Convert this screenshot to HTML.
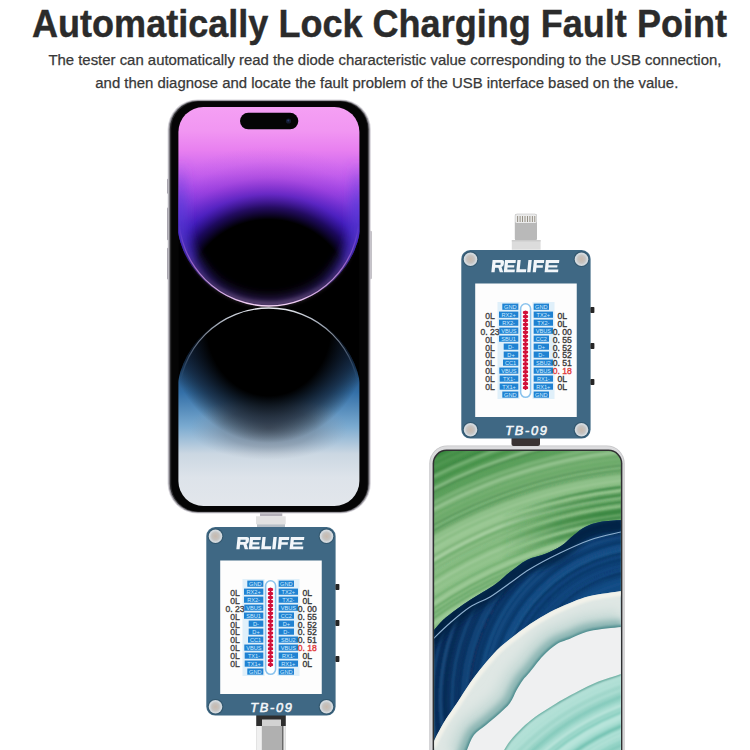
<!DOCTYPE html>
<html><head><meta charset="utf-8">
<style>
html,body{margin:0;padding:0;background:#fff;width:750px;height:750px;overflow:hidden}
svg{display:block;font-family:"Liberation Sans",sans-serif}
</style></head>
<body>
<svg width="750" height="750" viewBox="0 0 750 750">
<defs>
  <clipPath id="scr1"><rect x="178.4" y="107" width="181" height="399" rx="25"/></clipPath>
  <clipPath id="scr2"><rect x="434.2" y="451" width="186.6" height="330" rx="12.5"/></clipPath>
  <linearGradient id="u1" x1="0" y1="107" x2="0" y2="306" gradientUnits="userSpaceOnUse">
    <stop offset="0" stop-color="#f5a0f4"/>
    <stop offset="0.12" stop-color="#f196f2"/>
    <stop offset="0.216" stop-color="#e880f0"/>
    <stop offset="0.337" stop-color="#c862ee"/>
    <stop offset="0.422" stop-color="#a84cea"/>
    <stop offset="0.497" stop-color="#8040e4"/>
    <stop offset="0.588" stop-color="#5632da"/>
    <stop offset="0.673" stop-color="#3e28c4"/>
    <stop offset="0.739" stop-color="#2e1ea0"/>
    <stop offset="0.804" stop-color="#261688"/>
    <stop offset="1" stop-color="#4a2890"/>
  </linearGradient>
  <radialGradient id="u1d" cx="0" cy="0" r="1" gradientUnits="userSpaceOnUse" gradientTransform="translate(269.5 296) scale(160 150)">
    <stop offset="0" stop-color="#000" stop-opacity="1"/>
    <stop offset="0.51" stop-color="#000" stop-opacity="1"/>
    <stop offset="0.59" stop-color="#100040" stop-opacity="0.8"/>
    <stop offset="0.68" stop-color="#3008a0" stop-opacity="0.5"/>
    <stop offset="0.79" stop-color="#6010b0" stop-opacity="0.2"/>
    <stop offset="0.9" stop-color="#7020c0" stop-opacity="0.05"/>
    <stop offset="1" stop-color="#7020c0" stop-opacity="0"/>
  </radialGradient>
  <clipPath id="uclip"><path d="M176 100 L363 100 L363 216 A93.5 90 0 0 1 176 216 Z"/></clipPath>
  <linearGradient id="uglow" x1="0" y1="160" x2="0" y2="306" gradientUnits="userSpaceOnUse">
    <stop offset="0" stop-color="#7048e0" stop-opacity="0"/>
    <stop offset="0.35" stop-color="#5a3ad8" stop-opacity="0.8"/>
    <stop offset="0.65" stop-color="#4028b8" stop-opacity="0.8"/>
    <stop offset="0.85" stop-color="#4028a8" stop-opacity="0.45"/>
    <stop offset="1" stop-color="#6a40b8" stop-opacity="0.4"/>
  </linearGradient>
  <filter id="blur5" x="-20%" y="-20%" width="140%" height="140%"><feGaussianBlur stdDeviation="5"/></filter>
  <linearGradient id="u1rim" x1="0" y1="225" x2="0" y2="306" gradientUnits="userSpaceOnUse">
    <stop offset="0" stop-color="#c070f0" stop-opacity="0"/>
    <stop offset="0.5" stop-color="#d890f0" stop-opacity="0.6"/>
    <stop offset="1" stop-color="#f8d8f8" stop-opacity="1"/>
  </linearGradient>
  <linearGradient id="l1" x1="0" y1="308" x2="0" y2="505" gradientUnits="userSpaceOnUse">
    <stop offset="0" stop-color="#081426"/>
    <stop offset="0.25" stop-color="#17385e"/>
    <stop offset="0.43" stop-color="#3470a8"/>
    <stop offset="0.6" stop-color="#7aaad0"/>
    <stop offset="0.74" stop-color="#cbd7e2"/>
    <stop offset="0.86" stop-color="#dde3ea"/>
    <stop offset="1" stop-color="#e2e6eb"/>
  </linearGradient>
  <radialGradient id="l1d" cx="0" cy="0" r="1" gradientUnits="userSpaceOnUse" gradientTransform="translate(269.5 325) scale(105 118)">
    <stop offset="0" stop-color="#000" stop-opacity="1"/>
    <stop offset="0.6" stop-color="#000" stop-opacity="1"/>
    <stop offset="0.82" stop-color="#0a0f1a" stop-opacity="0.6"/>
    <stop offset="1" stop-color="#000" stop-opacity="0"/>
  </radialGradient>
  <radialGradient id="l1g" cx="0" cy="0" r="1" gradientUnits="userSpaceOnUse" gradientTransform="translate(269.5 428) scale(80 32)">
    <stop offset="0" stop-color="#5a6474" stop-opacity="0.75"/>
    <stop offset="0.6" stop-color="#6a7686" stop-opacity="0.45"/>
    <stop offset="1" stop-color="#8a96a6" stop-opacity="0"/>
  </radialGradient>
  <linearGradient id="l1rim" x1="0" y1="308" x2="0" y2="380" gradientUnits="userSpaceOnUse">
    <stop offset="0" stop-color="#e8eaf0" stop-opacity="1"/>
    <stop offset="0.5" stop-color="#a0b0c8" stop-opacity="0.6"/>
    <stop offset="1" stop-color="#6080a8" stop-opacity="0"/>
  </linearGradient>
  <filter id="blur1" x="-10%" y="-10%" width="120%" height="120%"><feGaussianBlur stdDeviation="0.9"/></filter>
  <radialGradient id="hwg" cx="675" cy="960" r="600" gradientUnits="userSpaceOnUse">
    <stop offset="0.667" stop-color="#8cc087"/>
    <stop offset="0.78" stop-color="#8fc189"/>
    <stop offset="0.85" stop-color="#76b072"/>
    <stop offset="0.9" stop-color="#4c964e"/>
    <stop offset="0.94" stop-color="#2e7c35"/>
    <stop offset="1" stop-color="#2a7530"/>
  </radialGradient>
  <linearGradient id="dgr" x1="500" y1="0" x2="600" y2="0" gradientUnits="userSpaceOnUse">
    <stop offset="0" stop-color="#2a7a31" stop-opacity="0"/>
    <stop offset="0.6" stop-color="#2a7a31" stop-opacity="0.6"/>
    <stop offset="1" stop-color="#2a7a31" stop-opacity="0.75"/>
  </linearGradient>
  <radialGradient id="hwn" cx="650" cy="700" r="240" gradientUnits="userSpaceOnUse">
    <stop offset="0.55" stop-color="#114a82"/>
    <stop offset="0.7" stop-color="#0e3f74"/>
    <stop offset="0.85" stop-color="#0a305e"/>
    <stop offset="1" stop-color="#08234c"/>
  </radialGradient>
  <linearGradient id="hwp" x1="600" y1="600" x2="540" y2="675" gradientUnits="userSpaceOnUse">
    <stop offset="0" stop-color="#e6ebe6"/>
    <stop offset="0.45" stop-color="#c9d9d6"/>
    <stop offset="0.8" stop-color="#8fb8b6"/>
    <stop offset="1" stop-color="#5f9898"/>
  </linearGradient>
  <radialGradient id="hwt" cx="708" cy="939" r="280" gradientUnits="userSpaceOnUse">
    <stop offset="0.7" stop-color="#a6dbd0"/>
    <stop offset="0.85" stop-color="#7cc9b9"/>
    <stop offset="0.95" stop-color="#9fd6ca"/>
    <stop offset="1" stop-color="#b8e2da"/>
  </radialGradient>
  <filter id="blur3" x="-20%" y="-20%" width="140%" height="140%"><feGaussianBlur stdDeviation="3"/></filter>
  <filter id="blur4" x="-20%" y="-20%" width="140%" height="140%"><feGaussianBlur stdDeviation="6"/></filter>
  <filter id="blur2" x="-20%" y="-20%" width="140%" height="140%"><feGaussianBlur stdDeviation="2"/></filter>
  <radialGradient id="screw" cx="0.5" cy="0.5" r="0.55">
    <stop offset="0" stop-color="#c8b9ad"/>
    <stop offset="0.6" stop-color="#c5c2bf"/>
    <stop offset="1" stop-color="#cfd3d6"/>
  </radialGradient>

  <g id="tester">
    <rect x="-0.7" y="0" width="129.3" height="188.6" rx="9" fill="#3f6884"/>
    <rect x="128.4" y="57" width="4" height="6" rx="0.8" fill="#262626"/>
    <rect x="128.4" y="93" width="4" height="6" rx="0.8" fill="#262626"/>
    <rect x="128.4" y="129" width="4" height="6" rx="0.8" fill="#262626"/>
    <circle cx="8.5" cy="9.2" r="7.9" fill="#2f5269" opacity="0.8"/>
    <circle cx="8.5" cy="9.2" r="6.8" fill="#d3d9de"/>
    <circle cx="8.5" cy="9.2" r="5.2" fill="url(#screw)"/>
    <circle cx="119.5" cy="9.2" r="7.9" fill="#2f5269" opacity="0.8"/>
    <circle cx="119.5" cy="9.2" r="6.8" fill="#d3d9de"/>
    <circle cx="119.5" cy="9.2" r="5.2" fill="url(#screw)"/>
    <circle cx="8.5" cy="179.8" r="7.9" fill="#2f5269" opacity="0.8"/>
    <circle cx="8.5" cy="179.8" r="6.8" fill="#d3d9de"/>
    <circle cx="8.5" cy="179.8" r="5.2" fill="url(#screw)"/>
    <circle cx="119.5" cy="179.8" r="7.9" fill="#2f5269" opacity="0.8"/>
    <circle cx="119.5" cy="179.8" r="6.8" fill="#d3d9de"/>
    <circle cx="119.5" cy="179.8" r="5.2" fill="url(#screw)"/>
    <g transform="translate(30.6 10.0) skewX(-6) scale(0.97 1)" fill="#f2f6fa" fill-rule="evenodd">
      <path d="M0 0 H9.6 Q12 0 12 2.4 V4.6 Q12 6.6 10 7 L12.2 12.2 H8.7 L6.8 7.7 H3.4 V12.2 H0 Z M3.4 2.8 H8.6 V5.1 H3.4 Z"/>
      <path d="M12.8 0 H24 V3 H16.2 V5.2 H23 V7.6 H16.2 V9.4 H24 V12.2 H12.8 Z"/>
      <path d="M25.6 0 H29 V9.2 H35.7 V12.2 H25.6 Z"/>
      <path d="M36.9 0 H40.4 V12.2 H36.9 Z"/>
      <path d="M42.6 0 H53.3 V3 H46 V5.3 H52.5 V7.7 H46 V12.2 H42.6 Z"/>
      <path d="M54.9 0 H68.8 V3 H58.3 V5.2 H67.5 V7.6 H58.3 V9.4 H68.8 V12.2 H54.9 Z"/>
    </g>
    <rect x="13.2" y="33.5" width="101.55" height="133.5" fill="#fdfdfd"/>
<rect x="35.5" y="52" width="22" height="97" fill="#e0f0fa"/>
<rect x="70.5" y="52" width="22" height="97" fill="#e0f0fa"/>
<rect x="40.3" y="53.6" width="16.0" height="6.2" fill="#1f82d2"/>
<text x="48.3" y="58.7" font-size="5.6" text-anchor="middle" fill="#cdeaff">GND</text>
<rect x="71.7" y="53.6" width="15.3" height="6.2" fill="#1f82d2"/>
<text x="79.3" y="58.7" font-size="5.6" text-anchor="middle" fill="#cdeaff">GND</text>
<rect x="37" y="61.59" width="19.3" height="6.2" fill="#1f82d2"/>
<text x="46.6" y="66.7" font-size="5.6" text-anchor="middle" fill="#cdeaff">RX2+</text>
<rect x="71.7" y="61.59" width="19.3" height="6.2" fill="#1f82d2"/>
<text x="81.3" y="66.7" font-size="5.6" text-anchor="middle" fill="#cdeaff">TX2+</text>
<text x="28" y="68.5" font-size="8.6" text-anchor="middle" fill="#444" stroke="#444" stroke-width="0.35">0L</text>
<text x="100.3" y="68.5" font-size="8.6" text-anchor="middle" fill="#3a3a3a" stroke="#3a3a3a" stroke-width="0.35">0L</text>
<rect x="37" y="69.58" width="19.3" height="6.2" fill="#1f82d2"/>
<text x="46.6" y="74.7" font-size="5.6" text-anchor="middle" fill="#cdeaff">RX2-</text>
<rect x="71.7" y="69.58" width="19.3" height="6.2" fill="#1f82d2"/>
<text x="81.3" y="74.7" font-size="5.6" text-anchor="middle" fill="#cdeaff">TX2-</text>
<text x="28" y="76.5" font-size="8.6" text-anchor="middle" fill="#444" stroke="#444" stroke-width="0.35">0L</text>
<text x="100.3" y="76.5" font-size="8.6" text-anchor="middle" fill="#3a3a3a" stroke="#3a3a3a" stroke-width="0.35">0L</text>
<rect x="37.3" y="77.57" width="19.0" height="6.2" fill="#1f82d2"/>
<text x="46.8" y="82.7" font-size="5.6" text-anchor="middle" fill="#cdeaff">VBUS</text>
<rect x="71.7" y="77.57" width="19.3" height="6.2" fill="#1f82d2"/>
<text x="81.3" y="82.7" font-size="5.6" text-anchor="middle" fill="#cdeaff">VBUS</text>
<text x="28" y="84.5" font-size="8.6" text-anchor="middle" fill="#444" stroke="#444" stroke-width="0.35">0. 23</text>
<text x="100.3" y="84.5" font-size="8.6" text-anchor="middle" fill="#3a3a3a" stroke="#3a3a3a" stroke-width="0.35">0. 00</text>
<rect x="37" y="85.56" width="19.3" height="6.2" fill="#1f82d2"/>
<text x="46.6" y="90.7" font-size="5.6" text-anchor="middle" fill="#cdeaff">SBU1</text>
<rect x="71.7" y="85.56" width="15.3" height="6.2" fill="#1f82d2"/>
<text x="79.3" y="90.7" font-size="5.6" text-anchor="middle" fill="#cdeaff">CC2</text>
<text x="28" y="92.5" font-size="8.6" text-anchor="middle" fill="#444" stroke="#444" stroke-width="0.35">0L</text>
<text x="100.3" y="92.5" font-size="8.6" text-anchor="middle" fill="#3a3a3a" stroke="#3a3a3a" stroke-width="0.35">0. 55</text>
<rect x="41.7" y="93.55000000000001" width="14.6" height="6.2" fill="#1f82d2"/>
<text x="49.0" y="98.7" font-size="5.6" text-anchor="middle" fill="#cdeaff">D-</text>
<rect x="71.7" y="93.55000000000001" width="15.3" height="6.2" fill="#1f82d2"/>
<text x="79.3" y="98.7" font-size="5.6" text-anchor="middle" fill="#cdeaff">D+</text>
<text x="28" y="100.5" font-size="8.6" text-anchor="middle" fill="#444" stroke="#444" stroke-width="0.35">0L</text>
<text x="100.3" y="100.5" font-size="8.6" text-anchor="middle" fill="#3a3a3a" stroke="#3a3a3a" stroke-width="0.35">0. 52</text>
<rect x="41.7" y="101.53999999999999" width="14.6" height="6.2" fill="#1f82d2"/>
<text x="49.0" y="106.6" font-size="5.6" text-anchor="middle" fill="#cdeaff">D+</text>
<rect x="71.7" y="101.53999999999999" width="15.3" height="6.2" fill="#1f82d2"/>
<text x="79.3" y="106.6" font-size="5.6" text-anchor="middle" fill="#cdeaff">D-</text>
<text x="28" y="108.4" font-size="8.6" text-anchor="middle" fill="#444" stroke="#444" stroke-width="0.35">0L</text>
<text x="100.3" y="108.4" font-size="8.6" text-anchor="middle" fill="#3a3a3a" stroke="#3a3a3a" stroke-width="0.35">0. 52</text>
<rect x="41" y="109.53" width="15.3" height="6.2" fill="#1f82d2"/>
<text x="48.6" y="114.6" font-size="5.6" text-anchor="middle" fill="#cdeaff">CC1</text>
<rect x="71.7" y="109.53" width="19.3" height="6.2" fill="#1f82d2"/>
<text x="81.3" y="114.6" font-size="5.6" text-anchor="middle" fill="#cdeaff">SBU2</text>
<text x="28" y="116.4" font-size="8.6" text-anchor="middle" fill="#444" stroke="#444" stroke-width="0.35">0L</text>
<text x="100.3" y="116.4" font-size="8.6" text-anchor="middle" fill="#3a3a3a" stroke="#3a3a3a" stroke-width="0.35">0. 51</text>
<rect x="37.3" y="117.52000000000001" width="19.0" height="6.2" fill="#1f82d2"/>
<text x="46.8" y="122.6" font-size="5.6" text-anchor="middle" fill="#cdeaff">VBUS</text>
<rect x="71.7" y="117.52000000000001" width="19.3" height="6.2" fill="#1f82d2"/>
<text x="81.3" y="122.6" font-size="5.6" text-anchor="middle" fill="#cdeaff">VBUS</text>
<text x="28" y="124.4" font-size="8.6" text-anchor="middle" fill="#444" stroke="#444" stroke-width="0.35">0L</text>
<text x="100.3" y="124.4" font-size="8.6" text-anchor="middle" fill="#e23a3a" stroke="#e23a3a" stroke-width="0.35">0. 18</text>
<rect x="37.7" y="125.50999999999999" width="18.6" height="6.2" fill="#1f82d2"/>
<text x="47.0" y="130.6" font-size="5.6" text-anchor="middle" fill="#cdeaff">TX1-</text>
<rect x="71.7" y="125.50999999999999" width="19.3" height="6.2" fill="#1f82d2"/>
<text x="81.3" y="130.6" font-size="5.6" text-anchor="middle" fill="#cdeaff">RX1-</text>
<text x="28" y="132.4" font-size="8.6" text-anchor="middle" fill="#444" stroke="#444" stroke-width="0.35">0L</text>
<text x="100.3" y="132.4" font-size="8.6" text-anchor="middle" fill="#3a3a3a" stroke="#3a3a3a" stroke-width="0.35">0L</text>
<rect x="37.7" y="133.5" width="18.6" height="6.2" fill="#1f82d2"/>
<text x="47.0" y="138.6" font-size="5.6" text-anchor="middle" fill="#cdeaff">TX1+</text>
<rect x="71.7" y="133.5" width="19.3" height="6.2" fill="#1f82d2"/>
<text x="81.3" y="138.6" font-size="5.6" text-anchor="middle" fill="#cdeaff">RX1+</text>
<text x="28" y="140.4" font-size="8.6" text-anchor="middle" fill="#444" stroke="#444" stroke-width="0.35">0L</text>
<text x="100.3" y="140.4" font-size="8.6" text-anchor="middle" fill="#3a3a3a" stroke="#3a3a3a" stroke-width="0.35">0L</text>
<rect x="40.3" y="141.49" width="16.0" height="6.2" fill="#1f82d2"/>
<text x="48.3" y="146.6" font-size="5.6" text-anchor="middle" fill="#cdeaff">GND</text>
<rect x="71.7" y="141.49" width="15.3" height="6.2" fill="#1f82d2"/>
<text x="79.3" y="146.6" font-size="5.6" text-anchor="middle" fill="#cdeaff">GND</text>
<rect x="58.6" y="53.8" width="10" height="93.5" rx="5" fill="#fff" stroke="#8cc4ee" stroke-width="1.6"/>
<line x1="63.5" y1="61" x2="63.5" y2="140" stroke="#8a1030" stroke-width="1"/>
<path d="M63.5 60.50 L66.1 61.60 L66.1 63.60 L63.5 64.70 L60.9 63.60 L60.9 61.60 Z" fill="#d2103a"/>
<path d="M63.5 64.45 L66.1 65.55 L66.1 67.55 L63.5 68.65 L60.9 67.55 L60.9 65.55 Z" fill="#d2103a"/>
<path d="M63.5 68.40 L66.1 69.50 L66.1 71.50 L63.5 72.60 L60.9 71.50 L60.9 69.50 Z" fill="#d2103a"/>
<path d="M63.5 72.35 L66.1 73.45 L66.1 75.45 L63.5 76.55 L60.9 75.45 L60.9 73.45 Z" fill="#d2103a"/>
<path d="M63.5 76.30 L66.1 77.40 L66.1 79.40 L63.5 80.50 L60.9 79.40 L60.9 77.40 Z" fill="#d2103a"/>
<path d="M63.5 80.25 L66.1 81.35 L66.1 83.35 L63.5 84.45 L60.9 83.35 L60.9 81.35 Z" fill="#d2103a"/>
<path d="M63.5 84.20 L66.1 85.30 L66.1 87.30 L63.5 88.40 L60.9 87.30 L60.9 85.30 Z" fill="#d2103a"/>
<path d="M63.5 88.15 L66.1 89.25 L66.1 91.25 L63.5 92.35 L60.9 91.25 L60.9 89.25 Z" fill="#d2103a"/>
<path d="M63.5 92.10 L66.1 93.20 L66.1 95.20 L63.5 96.30 L60.9 95.20 L60.9 93.20 Z" fill="#d2103a"/>
<path d="M63.5 96.05 L66.1 97.15 L66.1 99.15 L63.5 100.25 L60.9 99.15 L60.9 97.15 Z" fill="#d2103a"/>
<path d="M63.5 100.00 L66.1 101.10 L66.1 103.10 L63.5 104.20 L60.9 103.10 L60.9 101.10 Z" fill="#d2103a"/>
<path d="M63.5 103.95 L66.1 105.05 L66.1 107.05 L63.5 108.15 L60.9 107.05 L60.9 105.05 Z" fill="#d2103a"/>
<path d="M63.5 107.90 L66.1 109.00 L66.1 111.00 L63.5 112.10 L60.9 111.00 L60.9 109.00 Z" fill="#d2103a"/>
<path d="M63.5 111.85 L66.1 112.95 L66.1 114.95 L63.5 116.05 L60.9 114.95 L60.9 112.95 Z" fill="#d2103a"/>
<path d="M63.5 115.80 L66.1 116.90 L66.1 118.90 L63.5 120.00 L60.9 118.90 L60.9 116.90 Z" fill="#d2103a"/>
<path d="M63.5 119.75 L66.1 120.85 L66.1 122.85 L63.5 123.95 L60.9 122.85 L60.9 120.85 Z" fill="#d2103a"/>
<path d="M63.5 123.70 L66.1 124.80 L66.1 126.80 L63.5 127.90 L60.9 126.80 L60.9 124.80 Z" fill="#d2103a"/>
<path d="M63.5 127.65 L66.1 128.75 L66.1 130.75 L63.5 131.85 L60.9 130.75 L60.9 128.75 Z" fill="#d2103a"/>
<path d="M63.5 131.60 L66.1 132.70 L66.1 134.70 L63.5 135.80 L60.9 134.70 L60.9 132.70 Z" fill="#d2103a"/>
<path d="M63.5 135.55 L66.1 136.65 L66.1 138.65 L63.5 139.75 L60.9 138.65 L60.9 136.65 Z" fill="#d2103a"/>

    <text x="43.3" y="185" font-size="12.8" font-style="italic" fill="#f4f7fa" stroke="#f4f7fa" stroke-width="0.55" textLength="41.5" lengthAdjust="spacing">TB-09</text>
  </g>
</defs>

<!-- Title -->
<text x="32" y="37" font-size="38" font-weight="bold" fill="#2b2b2b" stroke="#2b2b2b" stroke-width="0.4" textLength="695" lengthAdjust="spacingAndGlyphs">Automatically Lock Charging Fault Point</text>
<text x="48.4" y="64.8" font-size="14.7" fill="#383838" stroke="#383838" stroke-width="0.25" textLength="673" lengthAdjust="spacingAndGlyphs">The tester can automatically read the diode characteristic value corresponding to the USB connection,</text>
<text x="95.3" y="87.7" font-size="14.7" fill="#383838" stroke="#383838" stroke-width="0.25" textLength="583" lengthAdjust="spacingAndGlyphs">and then diagnose and locate the fault problem of the USB interface based on the value.</text>

<!-- iPhone -->
<g>
  <rect x="167" y="178.7" width="3" height="15" rx="1" fill="#8a8590"/>
  <rect x="167" y="207.6" width="3" height="32.7" rx="1" fill="#8a8590"/>
  <rect x="167" y="247.7" width="3" height="31.8" rx="1" fill="#8a8590"/>
  <rect x="368.5" y="230.8" width="3" height="48.5" rx="1" fill="#8a8590"/>
  <rect x="167.6" y="99.4" width="203.2" height="414.2" rx="30" fill="#d6d4da"/>
  <rect x="168.6" y="100.2" width="201.2" height="412.6" rx="29.2" fill="#8e8c92"/>
  <rect x="169.8" y="100.9" width="198.8" height="411.2" rx="28.4" fill="#2a2a2c"/>
  <rect x="171.2" y="101.6" width="196.4" height="410" rx="27.5" fill="#050505"/>
  <g clip-path="url(#scr1)"><g transform="translate(178.4 0) scale(0.98907 1) translate(-178 0)">
    <rect x="178" y="107" width="183" height="398" fill="#000"/>
    <path d="M176 100 L363 100 L363 216 A93.5 90 0 0 1 176 216 Z" fill="url(#u1)"/>
    <path d="M176 100 L363 100 L363 216 A93.5 90 0 0 1 176 216 Z" fill="url(#u1d)"/>
    <g clip-path="url(#uclip)"><path d="M178 130 L178 216 A91.5 90 0 0 0 361 216 L361 130" fill="none" stroke="url(#uglow)" stroke-width="18" filter="url(#blur5)"/></g>
    <path d="M179 216 A90.5 88 0 0 0 360 216" fill="none" stroke="url(#u1rim)" stroke-width="3" stroke-opacity="0.4" filter="url(#blur2)"/>
    <path d="M178.5 216 A91 90 0 0 0 360.5 216" fill="none" stroke="url(#u1rim)" stroke-width="1.3"/>
    <path d="M176 520 L176 398 A93.5 90 0 0 1 363 398 L363 520 Z" fill="url(#l1)"/>
    <ellipse cx="269.5" cy="428" rx="80" ry="32" fill="url(#l1g)"/>
    <path d="M176 520 L176 398 A93.5 90 0 0 1 363 398 L363 520 Z" fill="url(#l1d)"/>
    <path d="M178.5 398 A91 90 0 0 1 360.5 398" fill="none" stroke="url(#l1rim)" stroke-width="1.3"/>
  </g></g>
  <rect x="240" y="112.8" width="58.3" height="16.5" rx="8.25" fill="#050505"/>
  <circle cx="288.5" cy="121" r="2.6" fill="#141a2e"/>
  <circle cx="288.3" cy="120.6" r="1" fill="#2a3a6a"/>
</g>

<!-- connector between iPhone and tester 1 -->
<rect x="260" y="513.3" width="22.3" height="3" fill="#b3b0b8"/>
<rect x="256" y="516.3" width="29.7" height="8" fill="#e2e2e2"/>
<rect x="257" y="524.3" width="28" height="3" fill="#b9c0c7"/>

<!-- USB-C plug below tester 1 -->
<rect x="256.3" y="715" width="29.4" height="40" fill="#b0b0b0"/>
<rect x="256.3" y="715" width="29.4" height="11" fill="#2e2e2e"/>
<rect x="262" y="719.5" width="19" height="6.5" fill="#d2d2d2"/>
<rect x="256.3" y="726" width="5.5" height="30" fill="#f0f0f0"/>
<rect x="282" y="726" width="1.6" height="30" fill="#6a6a6a"/>
<rect x="283.6" y="726" width="2.1" height="30" fill="#e8e8e8"/>
<!-- Lightning plug above tester 2 -->
<rect x="514.8" y="213.8" width="22.2" height="27" rx="2" fill="#b9b9b9"/>
<rect x="515.3" y="214.3" width="21.2" height="8.6" rx="1.5" fill="#ebebeb"/>
<rect x="517.20" y="216" width="0.9" height="6" fill="#8c8679"/><rect x="519.65" y="216" width="0.9" height="6" fill="#8c8679"/><rect x="522.10" y="216" width="0.9" height="6" fill="#8c8679"/><rect x="524.55" y="216" width="0.9" height="6" fill="#8c8679"/><rect x="527.00" y="216" width="0.9" height="6" fill="#8c8679"/><rect x="529.45" y="216" width="0.9" height="6" fill="#8c8679"/><rect x="531.90" y="216" width="0.9" height="6" fill="#8c8679"/><rect x="534.35" y="216" width="0.9" height="6" fill="#8c8679"/>
<rect x="511.8" y="240.2" width="28.8" height="9.5" fill="#dcdcdc"/>
<rect x="511.8" y="240.2" width="28.8" height="1.2" fill="#c8c8c8"/>
<!-- Huawei phone -->
<g>
  <rect x="429.3" y="445.5" width="195.4" height="330" rx="18" fill="#c4c4c6"/>
  <rect x="430.2" y="446.2" width="193.6" height="330" rx="17" fill="#dcdcde"/>
  <rect x="432.6" y="449.6" width="189.8" height="330" rx="14" fill="#303032"/>
<g clip-path="url(#scr2)">
<rect x="430" y="445" width="200" height="320" fill="url(#hwg)"/>
<g filter="url(#blur1)"><circle cx="675" cy="960" r="395.0" stroke="#b3d8ad" stroke-width="2.0" stroke-opacity="0.37" fill="none"/><circle cx="675" cy="960" r="400.4" stroke="#c0dfba" stroke-width="1.3" stroke-opacity="0.53" fill="none"/><circle cx="675" cy="960" r="403.0" stroke="#b3d8ad" stroke-width="1.7" stroke-opacity="0.54" fill="none"/><circle cx="675" cy="960" r="405.7" stroke="#2f7d36" stroke-width="1.7" stroke-opacity="0.47" fill="none"/><circle cx="675" cy="960" r="408.4" stroke="#2f7d36" stroke-width="2.2" stroke-opacity="0.31" fill="none"/><circle cx="675" cy="960" r="413.9" stroke="#b3d8ad" stroke-width="2.3" stroke-opacity="0.55" fill="none"/><circle cx="675" cy="960" r="418.4" stroke="#2f7d36" stroke-width="1.6" stroke-opacity="0.49" fill="none"/><circle cx="675" cy="960" r="422.2" stroke="#2f7d36" stroke-width="1.6" stroke-opacity="0.49" fill="none"/><circle cx="675" cy="960" r="426.4" stroke="#3b8a40" stroke-width="1.5" stroke-opacity="0.58" fill="none"/><circle cx="675" cy="960" r="430.2" stroke="#b3d8ad" stroke-width="2.6" stroke-opacity="0.44" fill="none"/><circle cx="675" cy="960" r="434.7" stroke="#3b8a40" stroke-width="1.8" stroke-opacity="0.39" fill="none"/><circle cx="675" cy="960" r="440.6" stroke="#a6d0a0" stroke-width="1.5" stroke-opacity="0.47" fill="none"/><circle cx="675" cy="960" r="446.4" stroke="#c0dfba" stroke-width="1.4" stroke-opacity="0.55" fill="none"/><circle cx="675" cy="960" r="451.7" stroke="#5ea25c" stroke-width="2.7" stroke-opacity="0.50" fill="none"/><circle cx="675" cy="960" r="455.4" stroke="#3b8a40" stroke-width="0.9" stroke-opacity="0.33" fill="none"/><circle cx="675" cy="960" r="458.8" stroke="#2f7d36" stroke-width="0.9" stroke-opacity="0.51" fill="none"/><circle cx="675" cy="960" r="463.6" stroke="#5ea25c" stroke-width="3.6" stroke-opacity="0.50" fill="none"/><circle cx="675" cy="960" r="467.1" stroke="#c0dfba" stroke-width="1.9" stroke-opacity="0.68" fill="none"/><circle cx="675" cy="960" r="470.8" stroke="#3b8a40" stroke-width="0.9" stroke-opacity="0.53" fill="none"/><circle cx="675" cy="960" r="473.8" stroke="#a6d0a0" stroke-width="3.0" stroke-opacity="0.52" fill="none"/><circle cx="675" cy="960" r="476.9" stroke="#a6d0a0" stroke-width="3.0" stroke-opacity="0.64" fill="none"/><circle cx="675" cy="960" r="482.4" stroke="#a6d0a0" stroke-width="3.2" stroke-opacity="0.59" fill="none"/><circle cx="675" cy="960" r="486.2" stroke="#b3d8ad" stroke-width="1.6" stroke-opacity="0.43" fill="none"/><circle cx="675" cy="960" r="489.6" stroke="#267030" stroke-width="1.1" stroke-opacity="0.38" fill="none"/><circle cx="675" cy="960" r="492.6" stroke="#267030" stroke-width="1.6" stroke-opacity="0.59" fill="none"/><circle cx="675" cy="960" r="497.5" stroke="#267030" stroke-width="1.7" stroke-opacity="0.52" fill="none"/><circle cx="675" cy="960" r="501.6" stroke="#5ea25c" stroke-width="3.9" stroke-opacity="0.50" fill="none"/><circle cx="675" cy="960" r="506.5" stroke="#3b8a40" stroke-width="1.4" stroke-opacity="0.33" fill="none"/><circle cx="675" cy="960" r="511.2" stroke="#b3d8ad" stroke-width="3.2" stroke-opacity="0.50" fill="none"/><circle cx="675" cy="960" r="514.1" stroke="#2f7d36" stroke-width="0.8" stroke-opacity="0.35" fill="none"/><circle cx="675" cy="960" r="516.9" stroke="#b3d8ad" stroke-width="1.3" stroke-opacity="0.42" fill="none"/><circle cx="675" cy="960" r="520.7" stroke="#3b8a40" stroke-width="1.6" stroke-opacity="0.44" fill="none"/><circle cx="675" cy="960" r="523.6" stroke="#3b8a40" stroke-width="1.5" stroke-opacity="0.39" fill="none"/><circle cx="675" cy="960" r="526.6" stroke="#267030" stroke-width="1.2" stroke-opacity="0.55" fill="none"/><circle cx="675" cy="960" r="529.7" stroke="#c0dfba" stroke-width="1.9" stroke-opacity="0.59" fill="none"/><circle cx="675" cy="960" r="535.4" stroke="#3b8a40" stroke-width="2.2" stroke-opacity="0.56" fill="none"/><circle cx="675" cy="960" r="540.3" stroke="#a6d0a0" stroke-width="3.0" stroke-opacity="0.47" fill="none"/><circle cx="675" cy="960" r="543.6" stroke="#267030" stroke-width="1.3" stroke-opacity="0.37" fill="none"/><circle cx="675" cy="960" r="549.0" stroke="#5ea25c" stroke-width="3.7" stroke-opacity="0.50" fill="none"/><circle cx="675" cy="960" r="554.3" stroke="#5ea25c" stroke-width="3.5" stroke-opacity="0.50" fill="none"/><circle cx="675" cy="960" r="557.6" stroke="#3b8a40" stroke-width="1.8" stroke-opacity="0.60" fill="none"/><circle cx="675" cy="960" r="562.8" stroke="#2f7d36" stroke-width="1.8" stroke-opacity="0.59" fill="none"/><circle cx="675" cy="960" r="566.9" stroke="#5ea25c" stroke-width="4.0" stroke-opacity="0.50" fill="none"/><circle cx="675" cy="960" r="572.8" stroke="#b3d8ad" stroke-width="1.4" stroke-opacity="0.51" fill="none"/><circle cx="675" cy="960" r="576.4" stroke="#267030" stroke-width="2.0" stroke-opacity="0.44" fill="none"/><circle cx="675" cy="960" r="581.2" stroke="#2f7d36" stroke-width="2.0" stroke-opacity="0.34" fill="none"/><circle cx="675" cy="960" r="585.1" stroke="#2f7d36" stroke-width="1.5" stroke-opacity="0.35" fill="none"/><circle cx="675" cy="960" r="590.3" stroke="#c0dfba" stroke-width="2.0" stroke-opacity="0.49" fill="none"/><circle cx="675" cy="960" r="596.2" stroke="#2f7d36" stroke-width="2.2" stroke-opacity="0.31" fill="none"/></g>
<g filter="url(#blur1)"><circle cx="675" cy="960" r="438" stroke="url(#dgr)" stroke-width="5" fill="none"/><circle cx="675" cy="960" r="446" stroke="url(#dgr)" stroke-width="4" fill="none"/><circle cx="675" cy="960" r="452" stroke="url(#dgr)" stroke-width="6" fill="none"/><circle cx="675" cy="960" r="461" stroke="url(#dgr)" stroke-width="3" fill="none"/><circle cx="675" cy="960" r="468" stroke="url(#dgr)" stroke-width="4" fill="none"/><circle cx="675" cy="960" r="476" stroke="url(#dgr)" stroke-width="3" fill="none"/></g>
<path d="M625.0 519.0 C624.3 519.2 625.2 519.5 621.0 520.0 C616.8 520.5 606.0 520.8 600.0 522.0 C594.0 523.2 589.3 524.8 585.0 527.0 C580.7 529.2 578.0 531.8 574.0 535.0 C570.0 538.2 565.8 542.8 561.0 546.0 C556.2 549.2 550.7 551.7 545.0 554.0 C539.3 556.3 532.8 557.0 527.0 560.0 C521.2 563.0 515.0 568.2 510.0 572.0 C505.0 575.8 501.5 579.7 497.0 583.0 C492.5 586.3 487.5 589.2 483.0 592.0 C478.5 594.8 474.3 597.2 470.0 600.0 C465.7 602.8 461.5 605.7 457.0 609.0 C452.5 612.3 446.8 616.5 443.0 620.0 C439.2 623.5 436.2 627.5 434.0 630.0 C431.8 632.5 430.7 634.2 430.0 635.0 L430 770 L625 770 Z" fill="url(#hwn)"/>
<clipPath id="navyclip"><path d="M625.0 519.0 C624.3 519.2 625.2 519.5 621.0 520.0 C616.8 520.5 606.0 520.8 600.0 522.0 C594.0 523.2 589.3 524.8 585.0 527.0 C580.7 529.2 578.0 531.8 574.0 535.0 C570.0 538.2 565.8 542.8 561.0 546.0 C556.2 549.2 550.7 551.7 545.0 554.0 C539.3 556.3 532.8 557.0 527.0 560.0 C521.2 563.0 515.0 568.2 510.0 572.0 C505.0 575.8 501.5 579.7 497.0 583.0 C492.5 586.3 487.5 589.2 483.0 592.0 C478.5 594.8 474.3 597.2 470.0 600.0 C465.7 602.8 461.5 605.7 457.0 609.0 C452.5 612.3 446.8 616.5 443.0 620.0 C439.2 623.5 436.2 627.5 434.0 630.0 C431.8 632.5 430.7 634.2 430.0 635.0 L430 770 L625 770 Z"/></clipPath>
<g clip-path="url(#navyclip)"><g filter="url(#blur1)"><circle cx="650" cy="700" r="120.0" stroke="#1a5590" stroke-width="1.8" stroke-opacity="0.65" fill="none"/><circle cx="650" cy="700" r="126.9" stroke="#0a2c5a" stroke-width="1.3" stroke-opacity="0.56" fill="none"/><circle cx="650" cy="700" r="130.0" stroke="#082650" stroke-width="2.1" stroke-opacity="0.68" fill="none"/><circle cx="650" cy="700" r="134.7" stroke="#082650" stroke-width="1.1" stroke-opacity="0.46" fill="none"/><circle cx="650" cy="700" r="139.7" stroke="#0a2c5a" stroke-width="1.5" stroke-opacity="0.53" fill="none"/><circle cx="650" cy="700" r="143.3" stroke="#0a2c5a" stroke-width="2.8" stroke-opacity="0.60" fill="none"/><circle cx="650" cy="700" r="149.5" stroke="#082650" stroke-width="2.1" stroke-opacity="0.56" fill="none"/><circle cx="650" cy="700" r="152.6" stroke="#1f5e96" stroke-width="2.7" stroke-opacity="0.63" fill="none"/><circle cx="650" cy="700" r="156.2" stroke="#1a5590" stroke-width="3.0" stroke-opacity="0.57" fill="none"/><circle cx="650" cy="700" r="160.5" stroke="#0a2c5a" stroke-width="2.6" stroke-opacity="0.43" fill="none"/><circle cx="650" cy="700" r="165.8" stroke="#2a6aa2" stroke-width="1.6" stroke-opacity="0.43" fill="none"/><circle cx="650" cy="700" r="170.6" stroke="#1f5e96" stroke-width="2.4" stroke-opacity="0.58" fill="none"/><circle cx="650" cy="700" r="175.6" stroke="#0a2c5a" stroke-width="1.9" stroke-opacity="0.56" fill="none"/><circle cx="650" cy="700" r="180.5" stroke="#0a2c5a" stroke-width="2.8" stroke-opacity="0.67" fill="none"/><circle cx="650" cy="700" r="184.3" stroke="#2a6aa2" stroke-width="1.7" stroke-opacity="0.53" fill="none"/><circle cx="650" cy="700" r="187.6" stroke="#1f5e96" stroke-width="1.9" stroke-opacity="0.49" fill="none"/><circle cx="650" cy="700" r="191.1" stroke="#0a2c5a" stroke-width="1.3" stroke-opacity="0.66" fill="none"/><circle cx="650" cy="700" r="198.0" stroke="#1f5e96" stroke-width="2.3" stroke-opacity="0.55" fill="none"/><circle cx="650" cy="700" r="204.9" stroke="#082650" stroke-width="2.4" stroke-opacity="0.70" fill="none"/><circle cx="650" cy="700" r="209.5" stroke="#2a6aa2" stroke-width="2.1" stroke-opacity="0.62" fill="none"/><circle cx="650" cy="700" r="212.6" stroke="#0a2c5a" stroke-width="2.4" stroke-opacity="0.52" fill="none"/><circle cx="650" cy="700" r="217.7" stroke="#1f5e96" stroke-width="1.7" stroke-opacity="0.68" fill="none"/><circle cx="650" cy="700" r="221.6" stroke="#082650" stroke-width="1.5" stroke-opacity="0.41" fill="none"/><circle cx="650" cy="700" r="227.7" stroke="#1f5e96" stroke-width="3.1" stroke-opacity="0.65" fill="none"/><circle cx="650" cy="700" r="233.4" stroke="#0a2c5a" stroke-width="1.3" stroke-opacity="0.68" fill="none"/><circle cx="650" cy="700" r="238.7" stroke="#082650" stroke-width="1.6" stroke-opacity="0.64" fill="none"/></g></g>
<g clip-path="url(#navyclip)"><path d="M625.0 519.0 C624.3 519.2 625.2 519.5 621.0 520.0 C616.8 520.5 606.0 520.8 600.0 522.0 C594.0 523.2 589.3 524.8 585.0 527.0 C580.7 529.2 578.0 531.8 574.0 535.0 C570.0 538.2 565.8 542.8 561.0 546.0 C556.2 549.2 550.7 551.7 545.0 554.0 C539.3 556.3 532.8 557.0 527.0 560.0 C521.2 563.0 515.0 568.2 510.0 572.0 C505.0 575.8 501.5 579.7 497.0 583.0 C492.5 586.3 487.5 589.2 483.0 592.0 C478.5 594.8 474.3 597.2 470.0 600.0 C465.7 602.8 461.5 605.7 457.0 609.0 C452.5 612.3 446.8 616.5 443.0 620.0 C439.2 623.5 436.2 627.5 434.0 630.0 C431.8 632.5 430.7 634.2 430.0 635.0" fill="none" stroke="#061c40" stroke-width="16" stroke-opacity="0.85" filter="url(#blur3)" transform="translate(0,5)"/></g>
<path d="M625.0 531.0 C624.3 531.2 626.8 530.5 621.0 532.0 C615.2 533.5 600.2 536.5 590.0 540.0 C579.8 543.5 570.0 548.2 560.0 553.0 C550.0 557.8 538.3 564.0 530.0 569.0 C521.7 574.0 516.7 578.3 510.0 583.0 C503.3 587.7 496.7 593.0 490.0 597.0 C483.3 601.0 476.7 602.7 470.0 607.0 C463.3 611.3 456.0 617.8 450.0 623.0 C444.0 628.2 437.3 634.8 434.0 638.0 C430.7 641.2 430.7 641.3 430.0 642.0" fill="none" stroke="#8fb0d0" stroke-width="1.1"/>
<path d="M625.0 590.0 C624.3 590.2 626.8 590.0 621.0 591.0 C615.2 592.0 598.5 594.0 590.0 596.0 C581.5 598.0 576.7 600.3 570.0 603.0 C563.3 605.7 556.7 608.5 550.0 612.0 C543.3 615.5 536.7 619.5 530.0 624.0 C523.3 628.5 515.5 634.7 510.0 639.0 C504.5 643.3 501.5 645.5 497.0 650.0 C492.5 654.5 487.5 660.5 483.0 666.0 C478.5 671.5 474.3 676.8 470.0 683.0 C465.7 689.2 461.0 697.0 457.0 703.0 C453.0 709.0 449.2 714.0 446.0 719.0 C442.8 724.0 440.0 729.3 438.0 733.0 C436.0 736.7 435.3 738.5 434.0 741.0 C432.7 743.5 430.7 746.8 430.0 748.0 L430 770 L625 770 Z" fill="#dfe7e4"/>
<clipPath id="paleclip"><path d="M625.0 590.0 C624.3 590.2 626.8 590.0 621.0 591.0 C615.2 592.0 598.5 594.0 590.0 596.0 C581.5 598.0 576.7 600.3 570.0 603.0 C563.3 605.7 556.7 608.5 550.0 612.0 C543.3 615.5 536.7 619.5 530.0 624.0 C523.3 628.5 515.5 634.7 510.0 639.0 C504.5 643.3 501.5 645.5 497.0 650.0 C492.5 654.5 487.5 660.5 483.0 666.0 C478.5 671.5 474.3 676.8 470.0 683.0 C465.7 689.2 461.0 697.0 457.0 703.0 C453.0 709.0 449.2 714.0 446.0 719.0 C442.8 724.0 440.0 729.3 438.0 733.0 C436.0 736.7 435.3 738.5 434.0 741.0 C432.7 743.5 430.7 746.8 430.0 748.0 L430 770 L625 770 Z"/></clipPath>
<g clip-path="url(#paleclip)">
<path d="M625.0 626.0 C624.3 626.2 626.8 626.2 621.0 627.0 C615.2 627.8 598.5 629.0 590.0 631.0 C581.5 633.0 575.5 636.5 570.0 638.7 C564.5 640.9 561.5 641.1 557.0 644.0 C552.5 646.9 547.5 651.3 543.0 656.0 C538.5 660.7 533.3 668.0 530.0 672.0 C526.7 676.0 525.2 677.0 523.0 680.0 C520.8 683.0 518.9 686.2 516.7 690.0 C514.5 693.8 513.0 699.0 510.0 703.0 C507.1 707.0 503.0 710.3 499.0 714.0 C495.0 717.7 490.2 721.5 486.0 725.0 C481.8 728.5 477.2 730.8 474.0 735.0 C470.8 739.2 468.8 745.8 467.0 750.0 C465.2 754.2 463.7 758.3 463.0 760.0" fill="none" stroke="#c6d9d6" stroke-width="22" filter="url(#blur4)" transform="translate(-5,-5)"/>
<path d="M625.0 626.0 C624.3 626.2 626.8 626.2 621.0 627.0 C615.2 627.8 598.5 629.0 590.0 631.0 C581.5 633.0 575.5 636.5 570.0 638.7 C564.5 640.9 561.5 641.1 557.0 644.0 C552.5 646.9 547.5 651.3 543.0 656.0 C538.5 660.7 533.3 668.0 530.0 672.0 C526.7 676.0 525.2 677.0 523.0 680.0 C520.8 683.0 518.9 686.2 516.7 690.0 C514.5 693.8 513.0 699.0 510.0 703.0 C507.1 707.0 503.0 710.3 499.0 714.0 C495.0 717.7 490.2 721.5 486.0 725.0 C481.8 728.5 477.2 730.8 474.0 735.0 C470.8 739.2 468.8 745.8 467.0 750.0 C465.2 754.2 463.7 758.3 463.0 760.0" fill="none" stroke="#86b2b0" stroke-width="9" filter="url(#blur3)" transform="translate(-2.5,-2.5)"/>
<path d="M625.0 626.0 C624.3 626.2 626.8 626.2 621.0 627.0 C615.2 627.8 598.5 629.0 590.0 631.0 C581.5 633.0 575.5 636.5 570.0 638.7 C564.5 640.9 561.5 641.1 557.0 644.0 C552.5 646.9 547.5 651.3 543.0 656.0 C538.5 660.7 533.3 668.0 530.0 672.0 C526.7 676.0 525.2 677.0 523.0 680.0 C520.8 683.0 518.9 686.2 516.7 690.0 C514.5 693.8 513.0 699.0 510.0 703.0 C507.1 707.0 503.0 710.3 499.0 714.0 C495.0 717.7 490.2 721.5 486.0 725.0 C481.8 728.5 477.2 730.8 474.0 735.0 C470.8 739.2 468.8 745.8 467.0 750.0 C465.2 754.2 463.7 758.3 463.0 760.0" fill="none" stroke="#4f8e90" stroke-width="4" filter="url(#blur1)"/>
<path d="M625.0 590.0 C624.3 590.2 626.8 590.0 621.0 591.0 C615.2 592.0 598.5 594.0 590.0 596.0 C581.5 598.0 576.7 600.3 570.0 603.0 C563.3 605.7 556.7 608.5 550.0 612.0 C543.3 615.5 536.7 619.5 530.0 624.0 C523.3 628.5 515.5 634.7 510.0 639.0 C504.5 643.3 501.5 645.5 497.0 650.0 C492.5 654.5 487.5 660.5 483.0 666.0 C478.5 671.5 474.3 676.8 470.0 683.0 C465.7 689.2 461.0 697.0 457.0 703.0 C453.0 709.0 449.2 714.0 446.0 719.0 C442.8 724.0 440.0 729.3 438.0 733.0 C436.0 736.7 435.3 738.5 434.0 741.0 C432.7 743.5 430.7 746.8 430.0 748.0" fill="none" stroke="#f2f2ea" stroke-width="5" filter="url(#blur1)" transform="translate(1,2)"/>
</g>
<path d="M625.0 626.0 C624.3 626.2 626.8 626.2 621.0 627.0 C615.2 627.8 598.5 629.0 590.0 631.0 C581.5 633.0 575.5 636.5 570.0 638.7 C564.5 640.9 561.5 641.1 557.0 644.0 C552.5 646.9 547.5 651.3 543.0 656.0 C538.5 660.7 533.3 668.0 530.0 672.0 C526.7 676.0 525.2 677.0 523.0 680.0 C520.8 683.0 518.9 686.2 516.7 690.0 C514.5 693.8 513.0 699.0 510.0 703.0 C507.1 707.0 503.0 710.3 499.0 714.0 C495.0 717.7 490.2 721.5 486.0 725.0 C481.8 728.5 477.2 730.8 474.0 735.0 C470.8 739.2 468.8 745.8 467.0 750.0 C465.2 754.2 463.7 758.3 463.0 760.0 L463 770 L625 770 Z" fill="#eff0f1"/>
<path d="M625.0 672.5 C624.3 672.8 626.0 672.2 621.0 674.0 C616.0 675.8 603.7 679.3 595.0 683.0 C586.3 686.7 576.2 692.2 569.0 696.0 C561.8 699.8 557.7 702.5 552.0 706.0 C546.3 709.5 540.0 713.3 535.0 717.0 C530.0 720.7 526.2 724.0 522.0 728.0 C517.8 732.0 513.2 737.0 510.0 741.0 C506.8 745.0 504.8 748.8 503.0 752.0 C501.2 755.2 499.7 758.7 499.0 760.0 L499 770 L625 770 Z" fill="url(#hwt)"/>
<clipPath id="tealclip"><path d="M625.0 672.5 C624.3 672.8 626.0 672.2 621.0 674.0 C616.0 675.8 603.7 679.3 595.0 683.0 C586.3 686.7 576.2 692.2 569.0 696.0 C561.8 699.8 557.7 702.5 552.0 706.0 C546.3 709.5 540.0 713.3 535.0 717.0 C530.0 720.7 526.2 724.0 522.0 728.0 C517.8 732.0 513.2 737.0 510.0 741.0 C506.8 745.0 504.8 748.8 503.0 752.0 C501.2 755.2 499.7 758.7 499.0 760.0 L499 770 L625 770 Z"/></clipPath>
<g clip-path="url(#tealclip)"><g filter="url(#blur1)"><circle cx="708" cy="939" r="190.0" stroke="#b8e4da" stroke-width="3.6" stroke-opacity="0.73" fill="none"/><circle cx="708" cy="939" r="194.8" stroke="#5cb4a3" stroke-width="1.1" stroke-opacity="0.55" fill="none"/><circle cx="708" cy="939" r="200.3" stroke="#5cb4a3" stroke-width="1.4" stroke-opacity="0.44" fill="none"/><circle cx="708" cy="939" r="205.5" stroke="#6cbdae" stroke-width="0.9" stroke-opacity="0.69" fill="none"/><circle cx="708" cy="939" r="212.3" stroke="#6cbdae" stroke-width="1.7" stroke-opacity="0.59" fill="none"/><circle cx="708" cy="939" r="218.7" stroke="#c9ece4" stroke-width="2.0" stroke-opacity="0.57" fill="none"/><circle cx="708" cy="939" r="221.8" stroke="#d5f0ea" stroke-width="3.0" stroke-opacity="0.56" fill="none"/><circle cx="708" cy="939" r="225.7" stroke="#c9ece4" stroke-width="3.2" stroke-opacity="0.64" fill="none"/><circle cx="708" cy="939" r="229.8" stroke="#5cb4a3" stroke-width="1.8" stroke-opacity="0.49" fill="none"/><circle cx="708" cy="939" r="233.8" stroke="#c9ece4" stroke-width="2.9" stroke-opacity="0.53" fill="none"/><circle cx="708" cy="939" r="237.2" stroke="#c9ece4" stroke-width="3.9" stroke-opacity="0.75" fill="none"/><circle cx="708" cy="939" r="240.2" stroke="#c9ece4" stroke-width="2.7" stroke-opacity="0.79" fill="none"/><circle cx="708" cy="939" r="244.8" stroke="#b8e4da" stroke-width="2.0" stroke-opacity="0.70" fill="none"/><circle cx="708" cy="939" r="249.1" stroke="#c9ece4" stroke-width="3.9" stroke-opacity="0.73" fill="none"/><circle cx="708" cy="939" r="252.6" stroke="#c9ece4" stroke-width="1.5" stroke-opacity="0.64" fill="none"/><circle cx="708" cy="939" r="257.5" stroke="#5cb4a3" stroke-width="1.4" stroke-opacity="0.46" fill="none"/><circle cx="708" cy="939" r="263.5" stroke="#b8e4da" stroke-width="2.5" stroke-opacity="0.62" fill="none"/><circle cx="708" cy="939" r="270.4" stroke="#b8e4da" stroke-width="2.3" stroke-opacity="0.77" fill="none"/><circle cx="708" cy="939" r="274.3" stroke="#b8e4da" stroke-width="3.1" stroke-opacity="0.53" fill="none"/><circle cx="708" cy="939" r="281.2" stroke="#d5f0ea" stroke-width="1.5" stroke-opacity="0.68" fill="none"/><path d="M625.0 672.5 C624.3 672.8 626.0 672.2 621.0 674.0 C616.0 675.8 603.7 679.3 595.0 683.0 C586.3 686.7 576.2 692.2 569.0 696.0 C561.8 699.8 557.7 702.5 552.0 706.0 C546.3 709.5 540.0 713.3 535.0 717.0 C530.0 720.7 526.2 724.0 522.0 728.0 C517.8 732.0 513.2 737.0 510.0 741.0 C506.8 745.0 504.8 748.8 503.0 752.0 C501.2 755.2 499.7 758.7 499.0 760.0" fill="none" stroke="#2f8a7a" stroke-width="2" stroke-opacity="0.85"/></g></g>
</g>

</g>
<!-- connector under tester 2 -->
<path d="M511.5 437 H540 V444 Q540 446 538 446 H513.5 Q511.5 446 511.5 444 Z" fill="#3a3333"/>

<use href="#tester" x="207" y="527"/>
<use href="#tester" x="462" y="250"/>
</svg>
</body></html>
